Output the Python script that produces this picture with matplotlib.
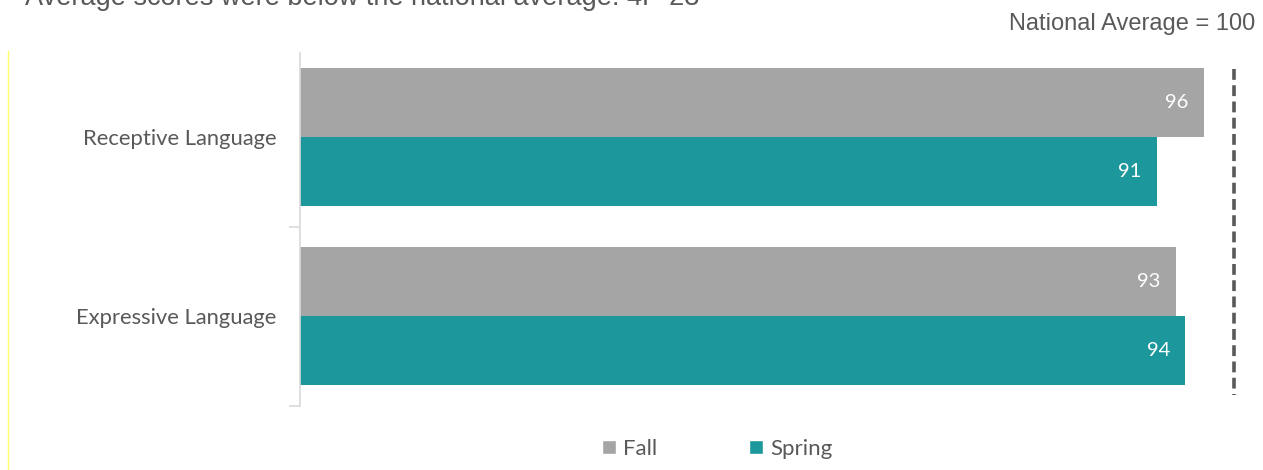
import matplotlib
matplotlib.use("Agg")
import matplotlib.pyplot as plt
import numpy as np
from matplotlib.lines import Line2D

# Data
categories = ["Receptive Language", "Expressive Language"]
fall = [96, 93]
spring = [91, 94]
series_names = ["Fall", "Spring"]
NATIONAL_AVG = 100

GRAY = "#a5a5a5"
TEAL = "#1c979b"
TEXT = "#595959"
LABEL_FONT = ["Lato", "DejaVu Sans"]

fig = plt.figure(figsize=(12.63, 4.70), dpi=100)
ax = fig.add_axes([300 / 1263, 1 - 405.5 / 470, 942 / 1263, 358 / 470])

y = np.arange(len(categories))
h = 0.385
b_fall = ax.barh(y - h / 2, fall, height=h, color=GRAY, label=series_names[0], zorder=2)
b_spring = ax.barh(y + h / 2, spring, height=h, color=TEAL, label=series_names[1], zorder=2)

for bars, vals in ((b_fall, fall), (b_spring, spring)):
    for rect, v in zip(bars, vals):
        ax.text(v - 1.65, rect.get_y() + rect.get_height() / 2, f"{v}", ha="right", va="center",
                color="white", fontsize=14.5, family=LABEL_FONT, zorder=3)

ax.set_xlim(0, 100)
ax.set_ylim(len(categories) - 0.5, -0.5)

# national average reference
ax.plot([NATIONAL_AVG - 0.8, NATIONAL_AVG - 0.8], [-0.38, 1.44], color="#595959", lw=2.6,
        linestyle=(0, (3, 1.5)), clip_on=False, zorder=4)

# axes styling (Excel-like)
for s in ("top", "right", "bottom"):
    ax.spines[s].set_visible(False)
ax.spines["left"].set_color("#d9d9d9")
ax.spines["left"].set_linewidth(1.2)
ax.spines["left"].set_bounds(-0.47, 1.5)
ax.set_xticks([])
ax.set_yticks([0.5, 1.5])
ax.set_yticks(y, minor=True)
ax.set_yticklabels([])
ax.set_yticklabels(categories, minor=True, family=LABEL_FONT, fontsize=15.8, color=TEXT)
ax.tick_params(axis="y", which="major", length=8, color="#d9d9d9", width=1.2)
ax.tick_params(axis="y", which="minor", length=0, pad=17)

# legend
handles = [Line2D([0], [0], marker="s", color="w", markerfacecolor=c, markersize=10, lw=0)
           for c in (GRAY, TEAL)]
fig.legend(handles, series_names, loc="center", bbox_to_anchor=(717 / 1263, 1 - 449 / 470),
           ncol=2, frameon=False, handletextpad=0.3, columnspacing=4.1, handlelength=0.7,
           prop={"family": LABEL_FONT, "size": 16}, labelcolor=TEXT)

# title (cut at top as in the source) and note
fig.text(25 / 1263, 1 - 5 / 470, "Average scores were below the national average: 4P-23",
         ha="left", va="baseline", fontsize=19.5, color=TEXT, family="Liberation Sans")
fig.text(1255 / 1263, 1 - 30 / 470, "National Average = 100", ha="right", va="baseline",
         fontsize=17, color=TEXT, family="Liberation Sans")

# slide border artefact
fig.add_artist(Line2D([8 / 1263, 8 / 1263], [0, 1 - 51 / 470], color="#ffff66", lw=1))

fig.savefig("out.png", dpi=100)
